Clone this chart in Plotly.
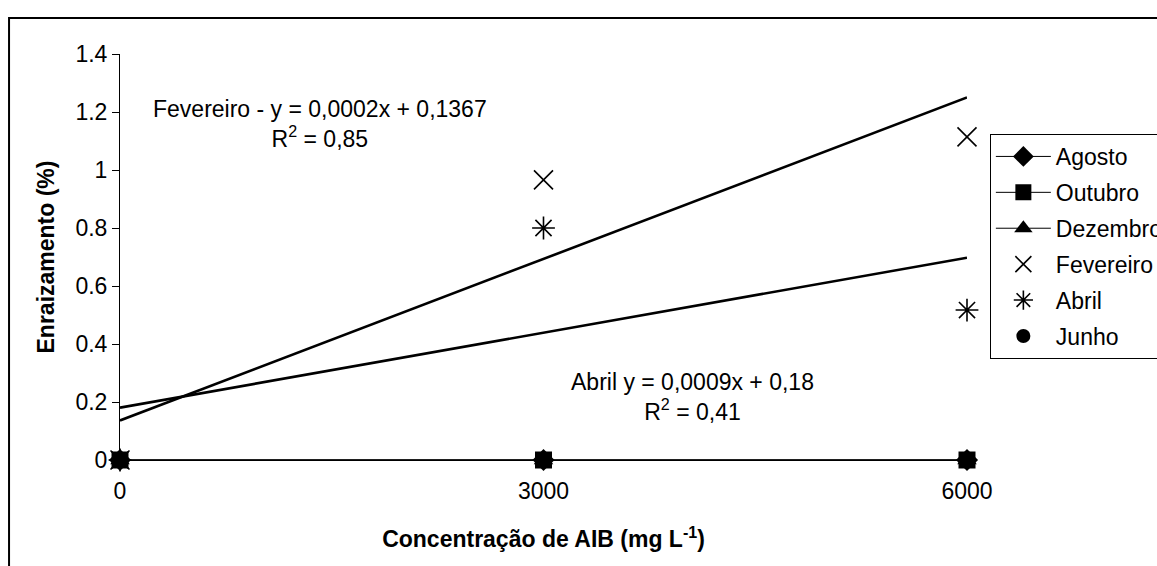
import numpy as np
import plotly.graph_objects as go

conc = [0, 3000, 6000]
agosto = [0, 0, 0]
outubro = [0, 0, 0]
dezembro = [0, 0, 0]
fevereiro = [0, 0.966, 1.114]
abril = [0, 0.80, 0.517]
junho = [0, 0, 0]

x_ticks = [0, 3000, 6000]
y_ticks = [0, 0.2, 0.4, 0.6, 0.8, 1.0, 1.2, 1.4]
y_labels = ["0", "0.2", "0.4", "0.6", "0.8", "1", "1.2", "1.4"]

FONT = "Liberation Sans, Arial, sans-serif"
FS = 23

fig = go.Figure()

# trend lines (least squares fits of the data)
for ys in (fevereiro, abril):
    m, b = np.polyfit(conc, ys, 1)
    xs = [conc[0], conc[-1]]
    fig.add_trace(go.Scatter(x=xs, y=[m * v + b for v in xs], mode="lines",
                             line=dict(color="black", width=2.6),
                             showlegend=False, hoverinfo="skip", cliponaxis=False))

series = [
    ("Agosto", agosto, "lines+markers", "diamond", 17, 0),
    ("Outubro", outubro, "lines+markers", "square", 17, 0),
    ("Dezembro", dezembro, "lines+markers", "triangle-up", 17, 0),
    ("Fevereiro", fevereiro, "markers", "x-thin-open", 19, 1.6),
    ("Abril", abril, "markers", "asterisk-open", 19, 1.6),
    ("Junho", junho, "markers", "circle", 14, 0),
]
for i, (name, ys, mode, sym, size, lw) in enumerate(series):
    fig.add_trace(go.Scatter(
        x=conc, y=ys, mode=mode, name=name, legendgroup=f"g{i}",
        line=dict(color="black", width=1),
        marker=dict(symbol=sym, size=size, color="black",
                    line=dict(color="black", width=lw)),
        cliponaxis=False,
    ))

fig.add_annotation(x=1417, y=1.158, xref="x", yref="y",
                   text="Fevereiro - y = 0,0002x + 0,1367<br>R<sup>2</sup> = 0,85",
                   showarrow=False, align="center",
                   font=dict(family=FONT, size=FS, color="black"))
fig.add_annotation(x=4052, y=0.218, xref="x", yref="y",
                   text="Abril y = 0,0009x + 0,18<br>R<sup>2</sup> = 0,41",
                   showarrow=False, align="center",
                   font=dict(family=FONT, size=FS, color="black"))

# outer chart frame
fig.add_shape(type="rect", xref="paper", yref="paper",
              x0=-0.131, x1=1.25, y0=-0.4, y1=1.0887,
              line=dict(color="black", width=2), layer="below")

fig.update_layout(
    width=1157, height=566,
    margin=dict(l=120, r=190, t=54, b=106, autoexpand=False),
    paper_bgcolor="white", plot_bgcolor="white",
    font=dict(family=FONT, size=FS, color="black"),
    legend=dict(x=1.027, y=0.803, xanchor="left", yanchor="top",
                bordercolor="black", borderwidth=1, bgcolor="white",
                font=dict(size=FS), tracegroupgap=3, traceorder="grouped",
                itemwidth=55),
    xaxis=dict(range=[0, 6000], tickvals=x_ticks, ticktext=[str(v) for v in x_ticks],
               showgrid=False, zeroline=False, showline=True, linecolor="black",
               linewidth=1, ticks="outside", ticklen=5, tickcolor="black",
               ticklabelstandoff=5, automargin=False,
               title=dict(text="<b>Concentração de AIB (mg L<sup>-1</sup>)</b>",
                          standoff=28, font=dict(size=FS))),
    yaxis=dict(range=[0, 1.4], tickvals=y_ticks, ticktext=y_labels,
               showgrid=False, zeroline=False, showline=True, linecolor="black",
               linewidth=1, ticks="outside", ticklen=7, tickcolor="black",
               automargin=False,
               title=dict(text="<b>Enraizamento (%)</b>", standoff=14,
                          font=dict(size=FS))),
)

fig.write_html("out.html")
